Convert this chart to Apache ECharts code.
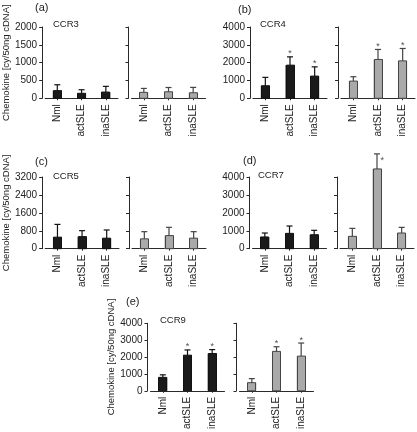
<!DOCTYPE html>
<html>
<head>
<meta charset="utf-8">
<script src="https://cdn.jsdelivr.net/npm/echarts@6/dist/echarts.min.js"></script>
<style>
html,body{margin:0;padding:0;background:#fff;}
#chart{width:417px;height:432px;}
</style>
</head>
<body>
<div id="chart"></div>
<script>
// ---------- DATA ----------
const categories = ['Nml', 'actSLE', 'inaSLE'];
const yAxisTitle = 'Chemokine [cy/50ng cDNA]';

// black bars (left sub-panel) and gray bars (right sub-panel): mean, error (+SD), significance flag
const ccr3Black = [215, 140, 175];   const ccr3BlackErr = [165, 100, 160];  const ccr3BlackSig = [0, 0, 0];
const ccr3Gray  = [167, 183, 156];   const ccr3GrayErr  = [110, 120, 150];  const ccr3GraySig  = [0, 0, 0];

const ccr4Black = [705, 1860, 1245]; const ccr4BlackErr = [470, 465, 520];  const ccr4BlackSig = [0, 1, 1];
const ccr4Gray  = [965, 2180, 2100]; const ccr4GrayErr  = [245, 560, 695];  const ccr4GraySig  = [0, 1, 1];

const ccr5Black = [515, 540, 470];   const ccr5BlackErr = [570, 265, 365];  const ccr5BlackSig = [0, 0, 0];
const ccr5Gray  = [440, 585, 470];   const ccr5GrayErr  = [320, 370, 290];  const ccr5GraySig  = [0, 0, 0];

const ccr7Black = [655, 855, 780];   const ccr7BlackErr = [220, 410, 245];  const ccr7BlackSig = [0, 0, 0];
const ccr7Gray  = [690, 4450, 875];  const ccr7GrayErr  = [445, 840, 315];  const ccr7GraySig  = [0, 1, 0];

const ccr9Black = [795, 2110, 2210]; const ccr9BlackErr = [150, 310, 230];  const ccr9BlackSig = [0, 1, 1];
const ccr9Gray  = [480, 2335, 2055]; const ccr9GrayErr  = [240, 275, 775];  const ccr9GraySig  = [0, 1, 1];

const panelLetters = ['(a)', '(b)', '(c)', '(d)', '(e)'];
const panelNames = ['CCR3', 'CCR4', 'CCR5', 'CCR7', 'CCR9'];
const axisMax = [2000, 4000, 3200, 4000, 4000];
const axisStep = [500, 1000, 800, 1000, 1000];

const panelData = [
  { black: [ccr3Black, ccr3BlackErr, ccr3BlackSig], gray: [ccr3Gray, ccr3GrayErr, ccr3GraySig] },
  { black: [ccr4Black, ccr4BlackErr, ccr4BlackSig], gray: [ccr4Gray, ccr4GrayErr, ccr4GraySig] },
  { black: [ccr5Black, ccr5BlackErr, ccr5BlackSig], gray: [ccr5Gray, ccr5GrayErr, ccr5GraySig] },
  { black: [ccr7Black, ccr7BlackErr, ccr7BlackSig], gray: [ccr7Gray, ccr7GrayErr, ccr7GraySig] },
  { black: [ccr9Black, ccr9BlackErr, ccr9BlackSig], gray: [ccr9Gray, ccr9GrayErr, ccr9GraySig] }
];

// ---------- LAYOUT (pixels) ----------
const layout = [
  { axL: 41,    axR: 128.5, top: 27,    zero: 98.3,  letter: [35, 2],    name: [53, 19],  yTitle: true,  starSide: false },
  { axL: 250,   axR: 338,   top: 27,    zero: 98.3,  letter: [238, 4],   name: [260, 19], yTitle: false, starSide: false },
  { axL: 42,    axR: 129,   top: 177,   zero: 248.7, letter: [35, 156],  name: [53, 171], yTitle: true,  starSide: false },
  { axL: 249.5, axR: 337,   top: 177,   zero: 248.7, letter: [243, 155], name: [258, 170], yTitle: false, starSide: true },
  { axL: 147.5, axR: 236.5, top: 323.3, zero: 395.3, letter: [126, 296], name: [160, 315], yTitle: true,  starSide: false }
];
const FONT = "'Liberation Sans', Arial, Helvetica, sans-serif";
const AX = '#2a2a2a';
const subWidth = 74;
const axisGap = 3;
const BAR_W = 9;

const grids = [], xAxes = [], yAxes = [], series = [], titles = [];

// bar outline + upward error bar with cap
function errRenderer(color) {
  return function (params, api) {
    const i = api.value(0), m = api.value(1), e = api.value(2);
    const pBase = api.coord([i, 0]);
    const p0 = api.coord([i, m]);
    const p1 = api.coord([i, m + e]);
    const cap = 3;
    const hw = BAR_W / 2;
    return {
      type: 'group',
      children: [
        { type: 'rect', shape: { x: Math.round(p0[0] - hw) + 0.5, y: p0[1], width: BAR_W - 1, height: pBase[1] - p0[1] },
          style: { fill: 'none', stroke: color, lineWidth: 1 } },
        { type: 'line', shape: { x1: p0[0], y1: p0[1], x2: p1[0], y2: p1[1] }, style: { stroke: color, lineWidth: 1.2 } },
        { type: 'line', shape: { x1: p1[0] - cap, y1: p1[1], x2: p1[0] + cap, y2: p1[1] }, style: { stroke: color, lineWidth: 1.2 } }
      ]
    };
  };
}

panelData.forEach(function (pd, p) {
  const L = layout[p];
  ['black', 'gray'].forEach(function (kind, k) {
    const idx = grids.length;
    const ax = k === 0 ? L.axL : L.axR;
    grids.push({ left: ax + axisGap, top: L.top, width: subWidth, height: L.zero - L.top });
    xAxes.push({
      type: 'category', gridIndex: idx, data: categories,
      axisLine: { lineStyle: { color: AX, width: 1 } },
      axisTick: { show: true, alignWithLabel: true, length: 2, lineStyle: { color: AX } },
      axisLabel: { rotate: 90, fontSize: 10, fontFamily: FONT, color: '#222', margin: 6, interval: 0 },
      splitLine: { show: false }
    });
    const ya = {
      type: 'value', gridIndex: idx, min: 0, max: axisMax[p], interval: axisStep[p], offset: axisGap,
      axisLine: { show: true, lineStyle: { color: AX, width: 1 } },
      axisTick: { show: true, length: 3, lineStyle: { color: AX } },
      axisLabel: { show: k === 0, fontSize: 10, fontFamily: FONT, color: '#222', margin: 5,
                   formatter: function (v) { return String(v); } },
      splitLine: { show: false }
    };
    if (k === 0 && L.yTitle) {
      ya.name = yAxisTitle;
      ya.nameLocation = 'middle';
      ya.nameGap = 30;
      ya.nameTextStyle = { fontSize: 9.5, fontFamily: FONT, color: '#222' };
    }
    yAxes.push(ya);
    const vals = pd[kind][0], errs = pd[kind][1], sig = pd[kind][2];
    series.push({
      type: 'bar', xAxisIndex: idx, yAxisIndex: idx, data: vals, barWidth: BAR_W, clip: false,
      itemStyle: { color: k === 0 ? '#1a1a1a' : '#a9a9a9' },
      silent: true, animation: false, z: 2
    });
    series.push({
      type: 'custom', xAxisIndex: idx, yAxisIndex: idx, clip: false,
      data: vals.map(function (v, i) { return [i, v, errs[i]]; }),
      encode: { x: 0, y: 1 },
      renderItem: errRenderer(k === 0 ? '#111' : '#444'),
      silent: true, animation: false, z: 3
    });
    const starPts = [];
    vals.forEach(function (v, i) { if (sig[i]) starPts.push([i, v + errs[i]]); });
    if (starPts.length) {
      const side = L.starSide && k === 1;
      series.push({
        type: 'scatter', xAxisIndex: idx, yAxisIndex: idx, clip: false,
        data: starPts, symbolSize: 1, itemStyle: { color: 'rgba(0,0,0,0)' },
        label: {
          show: true, formatter: '*', fontSize: 9, fontFamily: FONT, color: '#222',
          position: side ? 'right' : 'top', distance: side ? 3 : 0,
          offset: side ? [0, 7] : [0, 2]
        },
        silent: true, animation: false, z: 4
      });
    }
  });
  titles.push({ text: panelLetters[p], left: L.letter[0], top: L.letter[1], padding: 0,
    textStyle: { fontSize: 11, fontWeight: 'normal', fontFamily: FONT, color: '#222' } });
  titles.push({ text: panelNames[p], left: L.name[0], top: L.name[1], padding: 0,
    textStyle: { fontSize: 9.5, fontWeight: 'normal', fontFamily: FONT, color: '#222' } });
});

const chart = echarts.init(document.getElementById('chart'), null, { renderer: 'canvas' });
chart.setOption({
  backgroundColor: '#ffffff',
  animation: false,
  title: titles,
  grid: grids,
  xAxis: xAxes,
  yAxis: yAxes,
  series: series
});
</script>
</body>
</html>
